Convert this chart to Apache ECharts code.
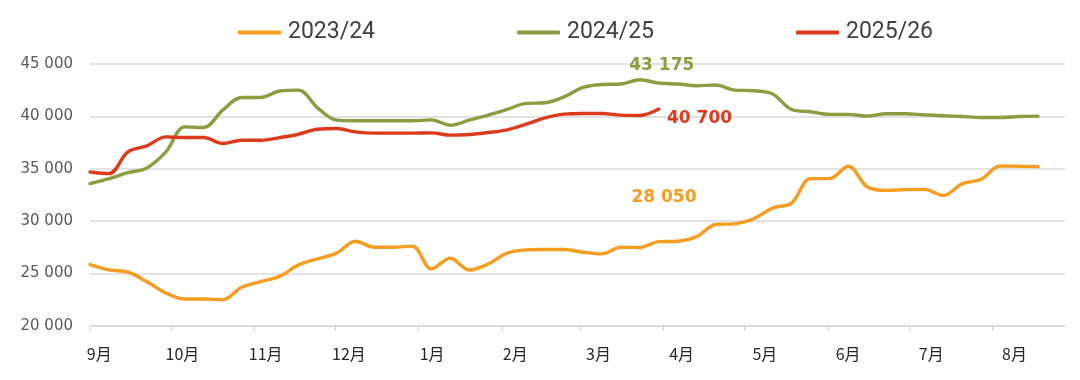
<!DOCTYPE html>
<html>
<head>
<meta charset="utf-8">
<script src="https://cdn.jsdelivr.net/npm/echarts@6/dist/echarts.min.js"></script>
<style>
  html, body { margin: 0; padding: 0; background: #ffffff; }
  #chart { width: 1080px; height: 380px; }
</style>
</head>
<body>
<div id="chart"></div>
<script>
// ---- DATA ----
const months = ['9月', '10月', '11月', '12月', '1月', '2月', '3月', '4月', '5月', '6月', '7月', '8月'];
const monthDays = [30, 31, 30, 31, 31, 29, 31, 30, 31, 30, 31, 31];
const seriesNames = ['2023/24', '2024/25', '2025/26'];

// weekly values (week 0 = start of September)
const s2324 = [25860, 25350, 25130, 24230, 23150, 22570, 22570, 22510, 23690, 24230,
               24740, 25830, 26400, 26950, 28090, 27520, 27520, 27620, 25450, 26470,
               25350, 25920, 26950, 27260, 27300, 27300, 27040, 26880, 27520, 27490,
               28050, 28090, 28540, 29690, 29750, 30230, 31250, 31730, 34060, 34060,
               35240, 33260, 32940, 33010, 33040, 32460, 33580, 34000, 35270, 35240,
               35210];
const s2425 = [33580, 34060, 34630, 35080, 36610, 39000, 38940, 40600, 41810, 41810,
               42420, 42510, 40820, 39640, 39580, 39580, 39580, 39580, 39670, 39160,
               39640, 40120, 40660, 41240, 41300, 41870, 42770, 43050, 43090, 43500,
               43175, 43090, 42930, 42990, 42510, 42450, 42130, 40660, 40440, 40190,
               40190, 40030, 40250, 40250, 40150, 40060, 39990, 39900, 39900, 39990,
               40030];
const s2526 = [34700, 34540, 36610, 37190, 38050, 37980, 37980, 37410, 37730, 37730,
               37980, 38300, 38780, 38840, 38520, 38400, 38400, 38400, 38430, 38210,
               38270, 38460, 38720, 39260, 39860, 40220, 40280, 40280, 40120, 40090,
               40700];
const annotationValues = [43175, 40700, 28050];

// ---- LAYOUT / STYLE ----
const colors = ['#F49D20', '#8C9C40', '#DB3A1C'];
const DAYS_PER_WEEK = 7.04;
const X_MAX = 362;
const LABEL_FIRST = 3.45, LABEL_STEP = 30.89;
const annoCoords = [[212.3, 44830], [226.3, 39750], [213.1, 32300]]; // label centres in data space
const legendLeft = [233, 512, 791];

const monthStarts = [];
let acc = 0;
monthDays.forEach(d => { monthStarts.push(acc); acc += d; });
const labelPos = months.map((m, i) => LABEL_FIRST + LABEL_STEP * i);

function toPairs(arr) { return arr.map((v, i) => [i * DAYS_PER_WEEK, v]); }
function fmt(v) { return String(v).replace(/\B(?=(\d{3})+(?!\d))/g, ' '); }

const allSeries = [s2324, s2425, s2526];
const annoSeriesIdx = [1, 2, 0];

const series = allSeries.map((arr, si) => {
  const aIdx = annoSeriesIdx.indexOf(si);
  return {
    name: seriesNames[si],
    type: 'line',
    data: toPairs(arr),
    showSymbol: false,
    smooth: 0.35,
    lineStyle: { width: 3.4, color: colors[si], cap: 'round', join: 'round' },
    itemStyle: { color: colors[si] },
    emphasis: { disabled: true },
    z: 2 + si,
    markPoint: {
      symbol: 'circle',
      symbolSize: 0,
      silent: true,
      data: [{
        coord: annoCoords[aIdx],
        value: annotationValues[aIdx],
        label: {
          show: true,
          position: 'inside',
          formatter: () => fmt(annotationValues[aIdx]),
          color: colors[si],
          fontFamily: 'DejaVu Sans',
          fontWeight: 'bold',
          fontSize: 17
        }
      }]
    }
  };
});

const legends = seriesNames.map((n, i) => ({
  left: legendLeft[i],
  top: 16,
  data: [n],
  icon: 'roundRect',
  itemWidth: 43,
  itemHeight: 4,
  selectedMode: false,
  textStyle: { fontFamily: 'Roboto', fontSize: 23, color: '#404040', padding: [0, 0, 0, 2] }
}));

const chart = echarts.init(document.getElementById('chart'), null, { renderer: 'canvas' });
chart.setOption({
  animation: false,
  backgroundColor: '#ffffff',
  grid: { left: 90, right: 15, top: 64, bottom: 54 },
  legend: legends,
  xAxis: {
    type: 'value',
    min: 0,
    max: X_MAX,
    axisLine: { show: true, lineStyle: { color: '#d9d9d9', width: 1.5 } },
    axisTick: { show: true, length: 5, lineStyle: { color: '#d0d0d0', width: 1 }, customValues: monthStarts },
    axisLabel: {
      customValues: labelPos,
      formatter: v => months[Math.round((v - LABEL_FIRST) / LABEL_STEP)],
      margin: 20,
      fontFamily: 'Noto Sans CJK SC',
      fontSize: 16,
      color: '#262626'
    },
    splitLine: { show: false }
  },
  yAxis: {
    type: 'value',
    min: 20000,
    max: 45000,
    interval: 5000,
    axisLine: { show: false },
    axisTick: { show: false },
    axisLabel: { formatter: v => fmt(v), fontFamily: 'DejaVu Sans', fontSize: 15, color: '#595959', margin: 17 },
    splitLine: { lineStyle: { color: '#d9d9d9', width: 1.5 } }
  },
  series: series
});
</script>
</body>
</html>
